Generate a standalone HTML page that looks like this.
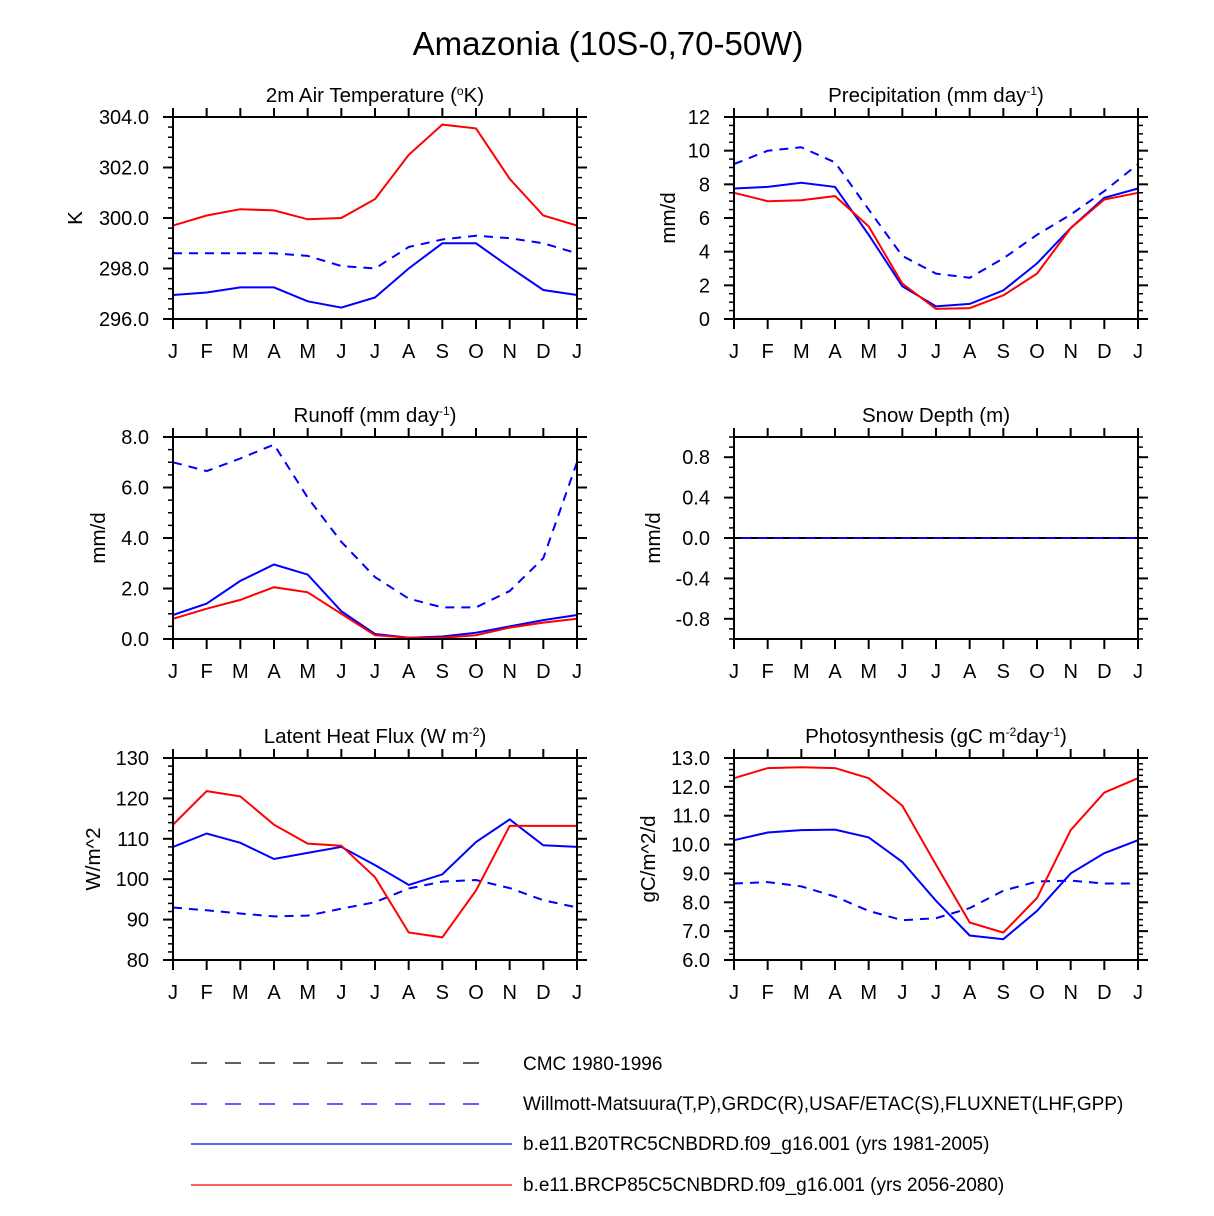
<!DOCTYPE html>
<html><head><meta charset="utf-8"><style>
body{margin:0;background:#fff}
svg{display:block;font-family:"Liberation Sans",sans-serif}
</style></head><body>
<svg id="s" width="1214" height="1216" xmlns="http://www.w3.org/2000/svg">
<text x="608" y="55" font-size="33" text-anchor="middle">Amazonia (10S-0,70-50W)</text>
<g font-size="19">
<line x1="191" y1="1063" x2="497" y2="1063" stroke="#000" stroke-width="1.2" stroke-dasharray="16,18"/>
<text x="523" y="1070">CMC 1980-1996</text>
<line x1="191" y1="1104" x2="497" y2="1104" stroke="#00f" stroke-width="1.2" stroke-dasharray="16,18"/>
<text x="523" y="1110">Willmott-Matsuura(T,P),GRDC(R),USAF/ETAC(S),FLUXNET(LHF,GPP)</text>
<line x1="191" y1="1144" x2="512" y2="1144" stroke="#00f" stroke-width="1.2"/>
<text x="523" y="1150">b.e11.B20TRC5CNBDRD.f09_g16.001 (yrs 1981-2005)</text>
<line x1="191" y1="1185" x2="512" y2="1185" stroke="#f00" stroke-width="1.2"/>
<text x="523" y="1191">b.e11.BRCP85C5CNBDRD.f09_g16.001 (yrs 2056-2080)</text>
</g>
</svg>
<script>
const months=["J","F","M","A","M","J","J","A","S","O","N","D","J"];
const tempObs=[298.6,298.6,298.6,298.6,298.5,298.1,298.0,298.85,299.15,299.3,299.2,299.0,298.6];
const tempB20=[296.95,297.05,297.25,297.25,296.7,296.45,296.85,298.0,299.0,299.0,298.05,297.15,296.95];
const tempRcp=[299.7,300.1,300.35,300.3,299.95,300.0,300.75,302.5,303.7,303.55,301.55,300.1,299.7];
const precObs=[9.2,10.0,10.2,9.3,6.5,3.75,2.7,2.45,3.6,5.0,6.2,7.6,9.2];
const precB20=[7.75,7.85,8.1,7.85,5.0,1.95,0.75,0.9,1.7,3.3,5.4,7.2,7.75];
const precRcp=[7.5,7.0,7.05,7.3,5.5,2.1,0.6,0.65,1.4,2.7,5.4,7.1,7.5];
const runObs=[7.0,6.65,7.15,7.7,5.6,3.85,2.45,1.6,1.25,1.25,1.9,3.2,7.0];
const runB20=[0.95,1.4,2.3,2.95,2.55,1.1,0.2,0.05,0.1,0.25,0.5,0.75,0.95];
const runRcp=[0.8,1.2,1.55,2.05,1.85,1.0,0.15,0.05,0.05,0.15,0.45,0.65,0.8];
const snowCmc=[0,0,0,0,0,0,0,0,0,0,0,0,0];
const snowObs=[0,0,0,0,0,0,0,0,0,0,0,0,0];
const lhfObs=[93,92.3,91.5,90.8,91,92.7,94.3,97.7,99.4,99.8,97.8,94.8,93];
const lhfB20=[108,111.3,109,105,106.5,108,103.5,98.6,101.2,109.2,114.8,108.4,108];
const lhfRcp=[113.5,121.8,120.5,113.5,108.8,108.3,100.5,86.8,85.6,97.2,113.2,113.2,113.2];
const gppObs=[8.65,8.7,8.55,8.2,7.7,7.38,7.45,7.8,8.4,8.72,8.75,8.65,8.65];
const gppB20=[10.15,10.42,10.5,10.52,10.25,9.4,8.05,6.85,6.72,7.7,9.0,9.7,10.15];
const gppRcp=[12.3,12.65,12.68,12.65,12.3,11.35,9.3,7.3,6.95,8.15,10.5,11.8,12.3];

const svg=document.getElementById('s');
const NS="http://www.w3.org/2000/svg";
function mk(tag,attrs,parent){const e=document.createElementNS(NS,tag);for(const k in attrs)e.setAttribute(k,attrs[k]);parent.appendChild(e);return e;}

const panels=[
 {name:"temperature",x0:173,y0:117,title:"2m Air Temperature (<tspan font-size='12' dy='-7'>o</tspan><tspan dy='7'>K)</tspan>",ylab:"K",ylx:75,min:296,max:304,maj:2,minr:0.4,dec:1,series:[[tempObs,"#00f",true],[tempB20,"#00f",false],[tempRcp,"#f00",false]]},
 {name:"precipitation",x0:734,y0:117,title:"Precipitation (mm day<tspan font-size='12' dy='-7'>-1</tspan><tspan dy='7'>)</tspan>",ylab:"mm/d",ylx:668,min:0,max:12,maj:2,minr:0.5,dec:0,series:[[precObs,"#00f",true],[precB20,"#00f",false],[precRcp,"#f00",false]]},
 {name:"runoff",x0:173,y0:437,title:"Runoff (mm day<tspan font-size='12' dy='-7'>-1</tspan><tspan dy='7'>)</tspan>",ylab:"mm/d",ylx:98,min:0,max:8,maj:2,minr:0.5,dec:1,series:[[runObs,"#00f",true],[runB20,"#00f",false],[runRcp,"#f00",false]]},
 {name:"snow-depth",x0:734,y0:437,title:"Snow Depth (m)",ylab:"mm/d",ylx:653,min:-1,max:1,maj:0.4,minr:0.1,dec:1,majStart:-0.8,series:[[snowCmc,"#000",true],[snowObs,"#00f",true,"8"]]},
 {name:"latent-heat",x0:173,y0:758,title:"Latent Heat Flux (W m<tspan font-size='12' dy='-7'>-2</tspan><tspan dy='7'>)</tspan>",ylab:"W/m^2",ylx:93,min:80,max:130,maj:10,minr:2,dec:0,series:[[lhfObs,"#00f",true],[lhfB20,"#00f",false],[lhfRcp,"#f00",false]]},
 {name:"photosynthesis",x0:734,y0:758,title:"Photosynthesis (gC m<tspan font-size='12' dy='-7'>-2</tspan><tspan dy='7'>day</tspan><tspan font-size='12' dy='-7'>-1</tspan><tspan dy='7'>)</tspan>",ylab:"gC/m^2/d",ylx:648,min:6,max:13,maj:1,minr:0.2,dec:1,series:[[gppObs,"#00f",true],[gppB20,"#00f",false],[gppRcp,"#f00",false]]}
];
const W=404,H=202;
panels.forEach(p=>{
 const g=mk('g',{},svg);
 
 
 const xs=i=>p.x0+i*W/12;
 const ys=v=>p.y0+H-(v-p.min)/(p.max-p.min)*H;
 p.series.forEach((s,si)=>{
  const pts=s[0].map((v,i)=>xs(i).toFixed(1)+","+ys(v).toFixed(1)).join(" ");
  const pl=mk('polyline',{points:pts,fill:"none",stroke:s[1],"stroke-width":2},g);
  if(s[2])pl.setAttribute('stroke-dasharray','9,7');
  if(s[3])pl.setAttribute('stroke-dashoffset',s[3]);
  
  
 });
 const fr=mk('rect',{x:p.x0,y:p.y0,width:W,height:H,fill:"none",stroke:"#000","stroke-width":2},g);
 
 
 const t=mk('text',{x:p.x0+W/2,y:p.y0-15,"font-size":20.5,"text-anchor":"middle"},g);
 t.innerHTML=p.title;
 
 
 const yl=mk('text',{x:0,y:0,"font-size":20.5,"text-anchor":"middle",transform:`translate(${p.ylx+7},${p.y0+H/2}) rotate(-90)`},g);
 yl.textContent=p.ylab;
 
 
 months.forEach((m,i)=>{
  const x=xs(i);
  mk('line',{x1:x,y1:p.y0-9,x2:x,y2:p.y0,stroke:"#000","stroke-width":2},g);
  mk('line',{x1:x,y1:p.y0+H,x2:x,y2:p.y0+H+10,stroke:"#000","stroke-width":2},g);
  const tl=mk('text',{x:x,y:p.y0+H+39,"font-size":20,"text-anchor":"middle"},g);
  tl.textContent=m;
  
  
 });
 const nmin=Math.round((p.max-p.min)/p.minr);
 for(let k=0;k<=nmin;k++){
  const y=ys(p.min+k*p.minr);
  mk('line',{x1:p.x0-5,y1:y,x2:p.x0,y2:y,stroke:"#000","stroke-width":1.5},g);
  mk('line',{x1:p.x0+W,y1:y,x2:p.x0+W+5,y2:y,stroke:"#000","stroke-width":1.5},g);
 }
 const st=p.majStart!==undefined?p.majStart:p.min;
 for(let v=st;v<=p.max+1e-6;v+=p.maj){
  const y=ys(v);
  mk('line',{x1:p.x0-10,y1:y,x2:p.x0,y2:y,stroke:"#000","stroke-width":2},g);
  mk('line',{x1:p.x0+W,y1:y,x2:p.x0+W+10,y2:y,stroke:"#000","stroke-width":2},g);
  const tl=mk('text',{x:p.x0-24,y:y+7,"font-size":20,"text-anchor":"end"},g);
  let s=Math.abs(v)<1e-9?(0).toFixed(p.dec):v.toFixed(p.dec);
  tl.textContent=s;
  
  
 }
});
</script>
</body></html>
